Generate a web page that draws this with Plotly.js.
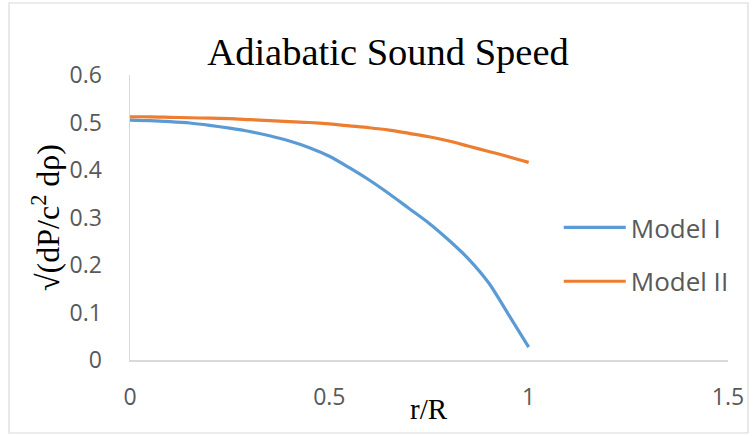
<!DOCTYPE html>
<html>
<head>
<meta charset="utf-8">
<script src="https://cdn.plot.ly/plotly-3.0.1.min.js"></script>
<style>html,body{margin:0;padding:0;background:#fff;}#chart{width:755px;height:436px;}</style>
</head>
<body>
<div id="chart"></div>
<script>
var rValues = [0, 0.05, 0.1, 0.15, 0.2, 0.25, 0.3, 0.35, 0.4, 0.45, 0.5, 0.55, 0.6, 0.65, 0.7, 0.75, 0.8, 0.85, 0.9, 0.95, 1.0];
var modelI  = [0.505, 0.504, 0.502, 0.499, 0.494, 0.488, 0.481, 0.472, 0.461, 0.447, 0.429, 0.405, 0.379, 0.350, 0.319, 0.288, 0.252, 0.212, 0.162, 0.095, 0.027];
var modelII = [0.512, 0.512, 0.511, 0.510, 0.509, 0.508, 0.506, 0.504, 0.502, 0.500, 0.497, 0.493, 0.489, 0.484, 0.477, 0.470, 0.461, 0.450, 0.439, 0.428, 0.416];
var seriesNames = ["Model I", "Model II"];
var xTickVals = [0, 0.5, 1, 1.5];
var xTickText = ["0", "0.5", "1", "1.5"];
var yTickVals = [0, 0.1, 0.2, 0.3, 0.4, 0.5, 0.6];
var yTickText = ["0", "0.1", "0.2", "0.3", "0.4", "0.5", "0.6"];

var tickFont = {family: "Open Sans, sans-serif", size: 23, color: "#595959"};
var serif = "Liberation Serif, Times New Roman, serif";
var traces = [
  {x: rValues, y: modelI, name: seriesNames[0], type: "scatter", mode: "lines",
   line: {color: "#5b9bd5", width: 3.2, shape: "spline", smoothing: 0.8}, legendgroup: "a"},
  {x: rValues, y: modelII, name: seriesNames[1], type: "scatter", mode: "lines",
   line: {color: "#ed7d31", width: 3.2, shape: "spline", smoothing: 0.8}, legendgroup: "b"}
];
var layout = {
  width: 755, height: 436,
  margin: {l: 130, r: 27, t: 75, b: 76},
  paper_bgcolor: "#fff", plot_bgcolor: "#fff",
  title: {text: "Adiabatic Sound Speed", font: {family: serif, size: 38.5, color: "#000"},
          x: 0.514, xanchor: "center", y: 0.8825, yanchor: "middle"},
  xaxis: {range: [0, 1.5], tickvals: xTickVals, ticktext: xTickText, showgrid: false, zeroline: false,
          showline: true, linecolor: "#d9d9d9", linewidth: 1.5, ticks: "", tickfont: tickFont,
          ticklabelstandoff: 16, fixedrange: true},
  yaxis: {range: [0, 0.6], tickvals: yTickVals, ticktext: yTickText, showgrid: false, zeroline: false,
          showline: true, linecolor: "#d9d9d9", linewidth: 1.5, ticks: "", tickfont: tickFont,
          ticklabelstandoff: 22, fixedrange: true,
          title: {text: "√(dP/c<sup>2</sup> dρ)", font: {family: serif, size: 32, color: "#000"}, standoff: 0}},
  showlegend: true,
  legend: {x: 0.717, xanchor: "left", y: 0.37, yanchor: "middle", bgcolor: "rgba(0,0,0,0)",
           font: {family: "Open Sans, sans-serif", size: 26, color: "#595959"},
           itemwidth: 62, traceorder: "grouped", tracegroupgap: 17},
  annotations: [
    {text: "r/R", xref: "paper", yref: "paper", x: 0.5, y: -0.172, xanchor: "center", yanchor: "middle",
     showarrow: false, font: {family: serif, size: 29, color: "#000"}}
  ],
  shapes: [
    {type: "rect", xref: "paper", yref: "paper", x0: -0.2023, x1: 1.0334, y0: -0.2562, y1: 1.2526,
     line: {color: "#d9d9d9", width: 1.2}, fillcolor: "rgba(0,0,0,0)", layer: "below"}
  ]
};
Plotly.newPlot("chart", traces, layout, {displayModeBar: false, staticPlot: true});
</script>
</body>
</html>
